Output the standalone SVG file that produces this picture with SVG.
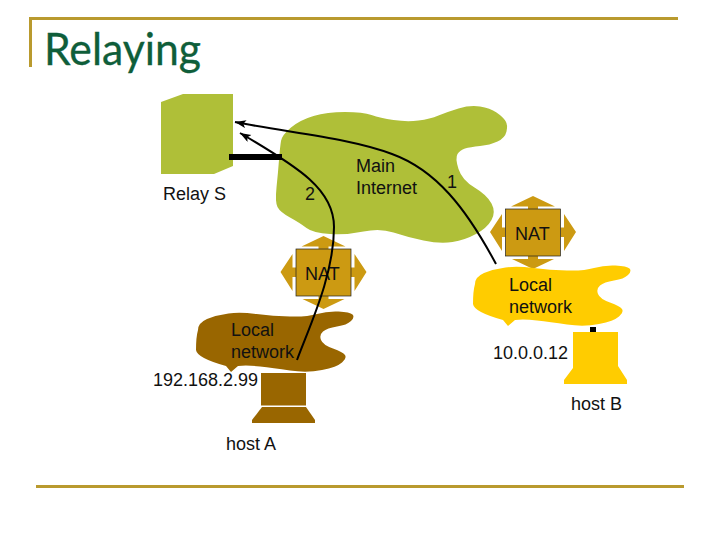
<svg xmlns="http://www.w3.org/2000/svg" width="720" height="540" viewBox="0 0 720 540">
<style>
text{font-family:"Liberation Sans",Arial,sans-serif;font-size:18px;fill:#111}
.title{font-family:Lato,"Open Sans",sans-serif;font-size:44px;fill:#0F5E3A;stroke:#0F5E3A;stroke-width:.3}
.rule{fill:#B99A2E}
.wire{fill:none;stroke:#000;stroke-width:2;marker-end:url(#arrow)}
</style>
<defs>
<marker id="arrow" markerUnits="userSpaceOnUse" markerWidth="12" markerHeight="10" refX="11" refY="4" orient="auto"><path d="M0 0L11 4L0 8L2.500 4Z" fill="#000"/></marker>
<g id="natShape">
<path fill="#CC9A12" d="M0-36.500L22-26H5V-23.500H-5V-26H-22ZM-43-.5L-31-18.500V-5H-27.500V4.500H-31V18.500ZM43-.5L31-18.500V-5H27.500V4.500H31V18.500ZM0 36.500L-21 26.500H-5V23.500H5V26.500H21Z"/>
<rect x="-27.500" y="-23.500" width="55" height="47" fill="#CC9A12" stroke="#222" stroke-width=".7"/>
</g>
<path id="netShape" d="M198 330Q198 323 207 319Q217 315 228.500 313.500Q240 312 256.500 314Q273 316 290 316.500Q307 317 317 314Q327 311 338.500 311.500Q350 312 352.500 314.500Q355 317 351 321Q347 325 337 326.500Q327 328 323 331.500Q319 335 321 340Q323 345 333 348.500Q343 352 345 355Q347 358 342 362.500Q337 367 322 370Q307 373 290 370.500Q273 368 260 366.500Q247 365 238 366L231 372L226 366Q197 358 196 350Q196 337 198 330Z"/>
</defs>
<g id="title">
<rect class="rule" x="29" y="17" width="649" height="3"/>
<rect class="rule" x="29" y="17" width="3" height="50"/>
<rect class="rule" x="36" y="485" width="648" height="3"/>
<text class="title" x="44" y="65" textLength="157" lengthAdjust="spacingAndGlyphs">Relaying</text>
</g>
<g id="main-internet">
<path fill="#AFBF38" d="M281 141Q282 135 291 127.500Q300 120 313.500 116Q327 112 345 112Q363 112 371.500 115Q380 118 393.500 120Q407 122 418.500 120.500Q430 119 438.500 115.500Q447 112 458.500 108.500Q470 105 480 106.500Q490 108 496.500 112.500Q503 117 505.500 121Q508 125 506.500 131.500Q505 138 497.500 141.500Q490 145 480 146Q470 147 465 148.500Q460 150 457.500 154Q455 158 458.500 169Q462 180 474.500 187.500Q487 195 491.500 203.500Q496 212 491.500 220Q487 228 476 234Q465 240 452.500 242Q440 244 423.500 240.500Q407 237 393.500 232.500Q380 228 363.500 231.500Q347 235 330 234Q313 233 306.500 228Q300 223 290 217.500Q280 212 277.500 207Q275 202 276.500 187.500Q278 173 279 160Q280 147 281 141Z"/>
<text x="356" y="172">Main</text>
<text x="356" y="194">Internet</text>
</g>
<g id="relay-s">
<path fill="#AFBF38" d="M161 102L183 94H233V166L214 174H161Z"/>
<rect x="229" y="154" width="53" height="6" fill="#000"/>
<text x="163" y="200">Relay S</text>
</g>
<g id="nat-a">
<use href="#natShape" x="323.500" y="272.500"/>
<text x="305" y="280">NAT</text>
</g>
<g id="nat-b">
<use href="#natShape" x="533" y="232.500"/>
<text x="515" y="240">NAT</text>
</g>
<g id="net-a">
<use href="#netShape" fill="#996600"/>
<text x="231" y="336">Local</text>
<text x="231" y="358">network</text>
</g>
<g id="net-b">
<use href="#netShape" fill="#FFCC00" x="277" y="-46"/>
<text x="509" y="291">Local</text>
<text x="509" y="313">network</text>
</g>
<g id="host-a">
<rect x="261" y="373" width="45" height="32.500" fill="#996600"/>
<path fill="#996600" d="M262 407H306L315 420V423H252V420Z"/>
<text x="153" y="386">192.168.2.99</text>
<text x="226" y="450">host A</text>
</g>
<g id="host-b">
<rect x="590" y="327" width="6" height="6" fill="#000"/>
<path fill="#FFCC00" d="M573 332H618V366L627 380V384H564V380L573 368Z"/>
<text x="493" y="359">10.0.0.12</text>
<text x="571" y="410">host B</text>
</g>
<g id="connectors">
<path class="wire" d="M496 264C466 208 436 170 392 154C350 138 290 133 235 122"/>
<path class="wire" d="M297 360C310 325 334 275 334 227C334 190 300 168 240 133"/>
</g>
<g id="labels">
<text x="305" y="200">2</text>
<text x="447" y="188">1</text>
</g>
</svg>
